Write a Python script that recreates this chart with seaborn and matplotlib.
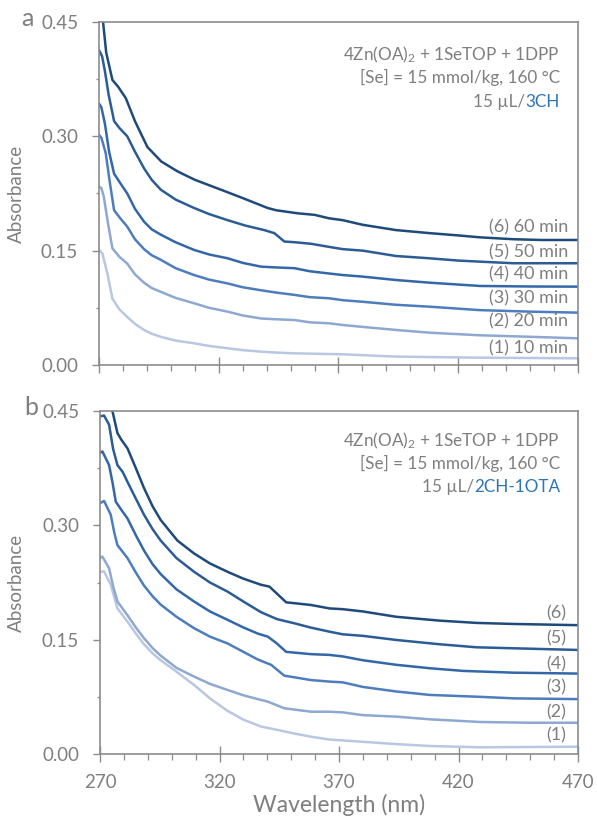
import numpy as np
import pandas as pd
import matplotlib
matplotlib.use("Agg")
import matplotlib.pyplot as plt
from matplotlib.ticker import FixedLocator, FormatStrFormatter
import seaborn as sns

# ---------------- data: panel a (3CH) ----------------
a_wl_6 = [270, 271.7, 273, 275.6, 278, 281.2, 285, 290.2, 296, 302.8, 310, 320.9, 330, 340.4, 344, 353, 360, 366, 371.8, 380, 394, 408, 420, 429, 443, 455, 470]
a_ab_6 = [0.49, 0.45, 0.41, 0.374, 0.365, 0.350, 0.320, 0.286, 0.267, 0.254, 0.243, 0.230, 0.219, 0.206, 0.203, 0.199, 0.197, 0.1925, 0.190, 0.184, 0.177, 0.173, 0.170, 0.1675, 0.165, 0.164, 0.164]

a_wl_5 = [270, 271.3, 272.5, 274, 276.3, 278.5, 281.8, 285, 288.8, 292, 295.8, 302, 309.7, 316, 323.7, 331, 339, 343.2, 347.4, 352, 358.6, 366, 371.8, 380.2, 394, 408, 420, 429, 443, 470]
a_ab_5 = [0.413, 0.405, 0.385, 0.355, 0.320, 0.311, 0.300, 0.280, 0.258, 0.243, 0.230, 0.217, 0.206, 0.198, 0.190, 0.183, 0.177, 0.173, 0.162, 0.161, 0.159, 0.155, 0.152, 0.150, 0.143, 0.140, 0.137, 0.1356, 0.1335, 0.1335]

a_wl_4 = [270, 271, 272.5, 274.2, 276.3, 279, 281.8, 285, 288.8, 292, 295.8, 302, 309.7, 316, 323.7, 330, 337.7, 344, 351.6, 358, 366.2, 371.8, 380, 394, 408, 429, 450, 470]
a_ab_4 = [0.343, 0.338, 0.316, 0.280, 0.251, 0.238, 0.225, 0.205, 0.188, 0.178, 0.171, 0.161, 0.151, 0.145, 0.140, 0.134, 0.129, 0.128, 0.127, 0.123, 0.120, 0.118, 0.116, 0.1115, 0.108, 0.1037, 0.103, 0.1028]

a_wl_3 = [270, 271, 272.8, 274.5, 276.3, 279, 281.8, 285, 288.8, 292, 295.8, 302, 309.7, 316, 323.7, 330, 337.7, 344, 351.6, 358, 366.2, 371.8, 380, 394, 408, 429, 450, 470]
a_ab_3 = [0.302, 0.298, 0.278, 0.240, 0.203, 0.192, 0.1815, 0.165, 0.152, 0.144, 0.138, 0.127, 0.118, 0.112, 0.107, 0.102, 0.098, 0.095, 0.092, 0.089, 0.0875, 0.085, 0.083, 0.079, 0.0765, 0.072, 0.070, 0.0687]

a_wl_2 = [270, 271, 272, 273.8, 275.6, 278.5, 281.8, 285, 288.8, 292, 295.8, 302, 309.7, 316, 323.7, 330, 337.7, 344, 351.6, 358, 366, 371.8, 380, 394, 408, 429, 450, 470]
a_ab_2 = [0.234, 0.232, 0.221, 0.185, 0.153, 0.142, 0.133, 0.119, 0.108, 0.101, 0.096, 0.088, 0.081, 0.075, 0.070, 0.065, 0.061, 0.060, 0.059, 0.056, 0.0547, 0.0525, 0.050, 0.046, 0.0424, 0.039, 0.037, 0.035]

a_wl_1 = [270, 271.4, 273.5, 275.6, 278.5, 281.8, 285, 288.8, 292, 295.8, 302, 309.7, 316, 323.7, 330, 337.7, 344, 351.6, 360, 372, 394, 429, 470]
a_ab_1 = [0.151, 0.1465, 0.120, 0.087, 0.073, 0.063, 0.054, 0.046, 0.041, 0.037, 0.032, 0.0285, 0.025, 0.022, 0.0195, 0.0175, 0.0163, 0.0153, 0.0148, 0.014, 0.011, 0.0096, 0.0088]

# ---------------- data: panel b (2CH-1OTA) ----------------
b_wl_6 = [270, 272, 275.2, 277.3, 279, 281.5, 285, 288.4, 292, 295.4, 302.4, 309.4, 316, 323.4, 330, 337.4, 340.9, 344.5, 347.9, 358.3, 366, 371.6, 380, 394, 412, 427.5, 443, 470]
b_ab_6 = [0.48, 0.478, 0.45, 0.421, 0.412, 0.401, 0.375, 0.349, 0.325, 0.307, 0.280, 0.263, 0.250, 0.239, 0.230, 0.222, 0.2196, 0.209, 0.199, 0.1955, 0.191, 0.190, 0.187, 0.180, 0.175, 0.172, 0.1706, 0.169]

b_wl_5 = [270, 271.7, 273.8, 275.5, 277.3, 279.5, 281.5, 285, 288.4, 292, 295.4, 302, 309.4, 316, 323.4, 330, 337.4, 344, 351.3, 358, 366, 371.6, 380, 394, 412, 427.5, 443, 470]
b_ab_5 = [0.443, 0.444, 0.432, 0.400, 0.379, 0.370, 0.357, 0.335, 0.314, 0.295, 0.280, 0.257, 0.239, 0.225, 0.213, 0.200, 0.186, 0.177, 0.1715, 0.166, 0.1605, 0.157, 0.155, 0.1496, 0.144, 0.140, 0.1387, 0.1365]

b_wl_4 = [270, 271, 273.8, 275.3, 276.6, 279, 281.5, 285, 288.4, 292, 295.4, 302, 309.4, 316, 323.4, 330, 336, 340.2, 344, 347.9, 358.3, 366, 371.6, 380, 394, 408, 422, 443, 470]
b_ab_4 = [0.395, 0.397, 0.379, 0.355, 0.331, 0.320, 0.309, 0.287, 0.267, 0.249, 0.236, 0.216, 0.200, 0.187, 0.176, 0.166, 0.158, 0.154, 0.145, 0.134, 0.131, 0.130, 0.128, 0.123, 0.117, 0.1125, 0.109, 0.1067, 0.1055]

b_wl_3 = [270, 271.7, 274.5, 276, 277.3, 281.5, 285, 288.4, 292, 295.4, 302, 309.4, 316, 323.4, 330, 336, 341.6, 347.1, 358.3, 366, 371.6, 380, 394, 408, 429, 443, 470]
b_ab_3 = [0.329, 0.332, 0.314, 0.290, 0.274, 0.257, 0.238, 0.221, 0.207, 0.196, 0.180, 0.165, 0.154, 0.145, 0.134, 0.124, 0.117, 0.1028, 0.097, 0.095, 0.094, 0.088, 0.082, 0.0775, 0.075, 0.073, 0.072]

b_wl_2 = [270, 271, 273.8, 275.5, 277.3, 281.5, 285, 288.4, 292, 295.4, 302, 309.4, 316, 323.4, 330, 336, 340.2, 347.1, 358.3, 366, 371.6, 380, 394, 408, 429, 450, 470]
b_ab_2 = [0.257, 0.259, 0.2437, 0.220, 0.200, 0.182, 0.166, 0.152, 0.139, 0.129, 0.113, 0.1015, 0.092, 0.084, 0.077, 0.072, 0.0687, 0.060, 0.0555, 0.0555, 0.0546, 0.051, 0.049, 0.0455, 0.042, 0.041, 0.041]

b_wl_1 = [270, 271.7, 274.5, 277.3, 281.5, 285, 288.4, 292, 295.4, 302, 309.4, 316, 323.4, 330, 337.4, 344.4, 351, 358.3, 366, 380, 394, 408, 429, 470]
b_ab_1 = [0.239, 0.2395, 0.222, 0.191, 0.1736, 0.158, 0.144, 0.132, 0.123, 0.108, 0.0905, 0.073, 0.0565, 0.045, 0.036, 0.0315, 0.027, 0.0227, 0.019, 0.016, 0.013, 0.0105, 0.0088, 0.0096]

runs = ["1", "2", "3", "4", "5", "6"]
time_labels = ["(1) 10 min", "(2) 20 min", "(3) 30 min", "(4) 40 min", "(5) 50 min", "(6) 60 min"]
short_labels = ["(1)", "(2)", "(3)", "(4)", "(5)", "(6)"]
a_label_y = [0.022, 0.057, 0.088, 0.119, 0.148, 0.180]
b_label_y = [0.025, 0.054, 0.0875, 0.118, 0.152, 0.184]

x_ticks = [270, 320, 370, 420, 470]
y_ticks = [0.00, 0.15, 0.30, 0.45]

line_colors = ["#b9c7e2", "#8ea8d2", "#4d7dbc", "#3467a8", "#2b5c95", "#1f4a7a"]

# ---------------- style ----------------
sns.set_theme(style="white")
plt.rcParams["font.family"] = ["Lato", "DejaVu Sans"]
plt.rcParams["mathtext.fontset"] = "custom"
plt.rcParams["mathtext.rm"] = "Lato"
plt.rcParams["mathtext.it"] = "Lato:italic"
plt.rcParams["mathtext.bf"] = "Lato:bold"

GRAY_TXT = "#7f7f7f"
GRAY_AX = "#8c8c8c"
BLUE_TXT = "#2e75b6"
FS_TICK = 13.5
FS_NOTE = 12.3
FS_CURVE = 13


def long_frame(wls, abss):
    rows = []
    for run, w, a in zip(runs, wls, abss):
        rows.append(pd.DataFrame({"wl": w, "A": a, "run": run}))
    return pd.concat(rows, ignore_index=True)


df_a = long_frame([a_wl_1, a_wl_2, a_wl_3, a_wl_4, a_wl_5, a_wl_6],
                  [a_ab_1, a_ab_2, a_ab_3, a_ab_4, a_ab_5, a_ab_6])
df_b = long_frame([b_wl_1, b_wl_2, b_wl_3, b_wl_4, b_wl_5, b_wl_6],
                  [b_ab_1, b_ab_2, b_ab_3, b_ab_4, b_ab_5, b_ab_6])
palette = dict(zip(runs, line_colors))

W, H = 597, 818
fig = plt.figure(figsize=(W / 100, H / 100), dpi=100)
ax_a = fig.add_axes([99 / W, 1 - 365 / H, 479 / W, 343 / H])
ax_b = fig.add_axes([100 / W, 1 - 754 / H, 478 / W, 343 / H])


def style_axes(ax, show_xlabels):
    ax.set_xlim(270, 470)
    ax.set_ylim(0, 0.45)
    ax.xaxis.set_major_locator(FixedLocator(x_ticks))
    ax.xaxis.set_minor_locator(FixedLocator(list(range(270, 471, 10))))
    ax.yaxis.set_major_locator(FixedLocator(y_ticks))
    ax.yaxis.set_minor_locator(FixedLocator([0.075, 0.225, 0.375]))
    ax.yaxis.set_major_formatter(FormatStrFormatter("%.2f"))
    for s in ax.spines.values():
        s.set_color(GRAY_AX)
        s.set_linewidth(1.2)
        s.set_visible(True)
    ax.tick_params(axis="x", which="major", direction="inout", length=11, width=1.0,
                   color=GRAY_AX, labelcolor=GRAY_TXT, labelsize=FS_TICK, pad=9,
                   bottom=True, labelbottom=show_xlabels)
    ax.tick_params(axis="x", which="minor", direction="out", length=4, width=0.9,
                   color=GRAY_AX, bottom=True)
    ax.tick_params(axis="y", which="major", direction="out", length=5, width=1.0,
                   color=GRAY_AX, labelcolor=GRAY_TXT, labelsize=FS_TICK, pad=10, left=True)
    ax.tick_params(axis="y", which="minor", direction="out", length=2.5, width=0.9,
                   color=GRAY_AX, left=True)
    ax.set_ylabel("Absorbance", color=GRAY_TXT, fontsize=13.5)
    if show_xlabels:
        ax.set_xlabel("Wavelength (nm)", color=GRAY_TXT, fontsize=16.5, labelpad=2)
    else:
        ax.set_xlabel("")


for ax, df in [(ax_a, df_a), (ax_b, df_b)]:
    sns.lineplot(data=df, x="wl", y="A", hue="run", palette=palette, ax=ax,
                 sort=False, estimator=None, legend=False, linewidth=1.8)

style_axes(ax_a, False)
style_axes(ax_b, True)
ax_a.yaxis.set_label_coords(-0.155, 0.5)
ax_b.yaxis.set_label_coords(-0.157, 0.5)

# curve labels at the right end
for lab, y in zip(time_labels, a_label_y):
    ax_a.text(466, y, lab, ha="right", va="center", color=GRAY_TXT, fontsize=FS_CURVE)
for lab, y in zip(short_labels, b_label_y):
    ax_b.text(465, y, lab, ha="right", va="center", color=GRAY_TXT, fontsize=FS_CURVE)

# panel letters
fig.text(21 / W, 1 - 26 / H, "a", color=GRAY_TXT, fontsize=18, ha="left", va="baseline")
fig.text(24 / W, 1 - 415 / H, "b", color=GRAY_TXT, fontsize=18, ha="left", va="baseline")

fig.canvas.draw()
renderer = fig.canvas.get_renderer()


def condition_block(ax, top_px, ligand):
    x_right = (560 - 100) / 478
    ys = [1 - p / 343 for p in top_px]
    ax.text(x_right, ys[0], r"4Zn(OA)$_2$ + 1SeTOP + 1DPP", transform=ax.transAxes,
            ha="right", va="baseline", color=GRAY_TXT, fontsize=FS_NOTE)
    ax.text(x_right, ys[1], "[Se] = 15 mmol/kg, 160 \u00b0C", transform=ax.transAxes,
            ha="right", va="baseline", color=GRAY_TXT, fontsize=FS_NOTE)
    t_blue = ax.text(x_right, ys[2], ligand, transform=ax.transAxes,
                     ha="right", va="baseline", color=BLUE_TXT, fontsize=FS_NOTE)
    bb = t_blue.get_window_extent(renderer)
    x_left = ax.transAxes.inverted().transform((bb.x0, bb.y0))[0]
    ax.text(x_left, ys[2], "15 \u00b5L/", transform=ax.transAxes,
            ha="right", va="baseline", color=GRAY_TXT, fontsize=FS_NOTE)


condition_block(ax_a, [38, 61, 85], "3CH")
condition_block(ax_b, [35, 58, 81], "2CH-1OTA")

fig.savefig("out.png", dpi=100)
